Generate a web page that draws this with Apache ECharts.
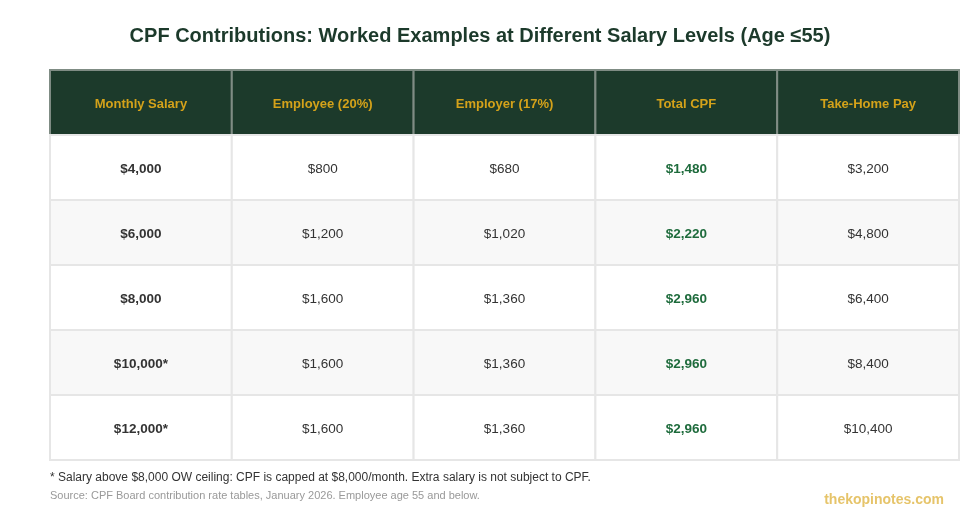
<!DOCTYPE html>
<html lang="en">

<head>
    <meta charset="UTF-8">
    <title>CPF Contributions</title>
    <script src="https://cdn.jsdelivr.net/npm/echarts@6/dist/echarts.min.js"></script>
    <style>
        html, body {
            margin: 0;
            padding: 0;
            background: #fff;
        }
    </style>
</head>

<body>
    <div id="chart" style="width: 960px; height: 520px;"></div>

    <script>
        let columns = ['Monthly Salary', 'Employee (20%)', 'Employer (17%)', 'Total CPF', 'Take-Home Pay'];
        let salary = ['$4,000', '$6,000', '$8,000', '$10,000*', '$12,000*'];
        let employee = ['$800', '$1,200', '$1,600', '$1,600', '$1,600'];
        let employer = ['$680', '$1,020', '$1,360', '$1,360', '$1,360'];
        let totalCpf = ['$1,480', '$2,220', '$2,960', '$2,960', '$2,960'];
        let takeHome = ['$3,200', '$4,800', '$6,400', '$8,400', '$10,400'];

        let rowNames = ['header'].concat(salary.map((s, i) => 'r' + i));
        let bodyCols = [salary, employee, employer, totalCpf, takeHome];

        const FONT = "'Liberation Sans', Arial, Helvetica, sans-serif";

        // cells: [col, row, text]
        let cells = [];
        columns.forEach((c, ci) => cells.push([ci, 0, c]));
        bodyCols.forEach((col, ci) => {
            col.forEach((v, ri) => cells.push([ci, ri + 1, v]));
        });

        let chart = echarts.init(document.getElementById('chart'));

        function renderCell(params, api) {
            let ci = api.value(0), ri = api.value(1);
            let center = api.coord([ci, ri]);
            let size = api.size([1, 1]);
            let w = size[0], h = size[1];
            let x = center[0] - w / 2, y = center[1] - h / 2;
            let isHeader = ri === 0;
            let fill = isHeader ? '#1c3a2b' : (ri % 2 === 0 ? '#f8f8f8' : '#ffffff');
            let textColor = isHeader ? '#d4a21a' : (ci === 3 ? '#1e6b3c' : '#333333');
            let bold = isHeader || ci === 0 || ci === 3;
            return {
                type: 'group',
                children: [{
                    type: 'rect',
                    shape: { x: x, y: y, width: w, height: h },
                    style: {
                        fill: fill,
                        stroke: isHeader ? '#7f8c84' : '#e6e6e6',
                        lineWidth: 2
                    }
                }, {
                    type: 'text',
                    style: {
                        x: center[0],
                        y: center[1] + 1.5,
                        text: api.value(2),
                        align: 'center',
                        verticalAlign: 'middle',
                        fill: textColor,
                        fontFamily: FONT,
                        fontSize: isHeader ? 13 : 13.5,
                        fontWeight: bold ? 'bold' : 'normal'
                    }
                }]
            };
        }

        let option = {
            animation: false,
            title: {
                text: 'CPF Contributions: Worked Examples at Different Salary Levels (Age ≤55)',
                left: 'center',
                top: 21,
                textStyle: {
                    color: '#1c3a2b',
                    fontSize: 20,
                    fontWeight: 'bold',
                    fontFamily: FONT
                }
            },
            grid: {
                left: 50,
                right: 1,
                top: 70,
                bottom: 60
            },
            xAxis: {
                type: 'category',
                data: columns,
                show: false
            },
            yAxis: {
                type: 'category',
                data: rowNames,
                inverse: true,
                show: false
            },
            series: [{
                type: 'custom',
                renderItem: renderCell,
                encode: { x: 0, y: 1 },
                data: cells
            }],
            graphic: [{
                type: 'text',
                left: 50,
                top: 472,
                style: {
                    text: '* Salary above $8,000 OW ceiling: CPF is capped at $8,000/month. Extra salary is not subject to CPF.',
                    fill: '#333',
                    fontSize: 12,
                    fontFamily: FONT
                }
            }, {
                type: 'text',
                left: 50,
                top: 490,
                style: {
                    text: 'Source: CPF Board contribution rate tables, January 2026. Employee age 55 and below.',
                    fill: '#999',
                    fontSize: 11,
                    fontFamily: FONT
                }
            }, {
                type: 'text',
                right: 16,
                top: 493,
                style: {
                    text: 'thekopinotes.com',
                    fill: '#e6c46a',
                    fontSize: 14,
                    fontWeight: 'bold',
                    fontFamily: FONT
                }
            }]
        };

        chart.setOption(option);
    </script>
</body>

</html>
